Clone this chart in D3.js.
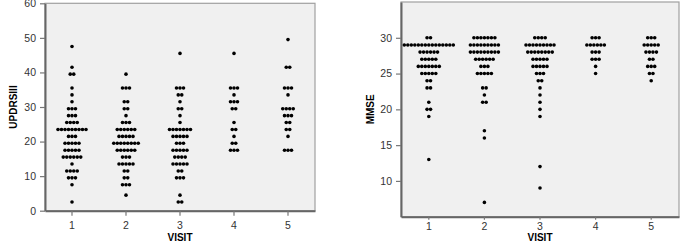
<!DOCTYPE html>
<html>
<head>
<meta charset="utf-8">
<script src="https://cdn.jsdelivr.net/npm/d3@7"></script>
<style>
  body { margin: 0; background: #fff; }
  text { font-family: "Liberation Sans", Arial, sans-serif; }
</style>
</head>
<body>
<svg id="chart" width="689" height="244"></svg>
<script>
const visits = ["1", "2", "3", "4", "5"];

// UPDRSIII dot plot: [binned value, number of dots]
const updrsV1 = [[47.5,1],[41.5,1],[39.5,2],[35.5,1],[33.5,1],[31.5,1],[29.5,3],[27.5,3],[25.5,4],[23.5,9],[21.5,3],[19.5,5],[17.5,5],[15.5,6],[13.5,1],[11.5,4],[9.5,3],[7.5,1],[2.5,1]];
const updrsV2 = [[39.5,1],[35.5,3],[31.5,2],[29.5,2],[27.5,1],[25.5,3],[23.5,6],[21.5,5],[19.5,8],[17.5,6],[15.5,3],[13.5,5],[11.5,2],[9.5,2],[7.5,3],[4.5,1]];
const updrsV3 = [[45.5,1],[35.5,3],[33.5,2],[31.5,1],[29.5,2],[27.5,1],[25.5,1],[23.5,7],[21.5,5],[19.5,3],[17.5,5],[15.5,4],[13.5,5],[11.5,2],[9.5,3],[4.5,1],[2.5,2]];
const updrsV4 = [[45.5,1],[35.5,3],[33.5,1],[31.5,3],[29.5,2],[25.5,1],[23.5,2],[21.5,1],[19.5,2],[17.5,3]];
const updrsV5 = [[49.5,1],[41.5,2],[35.5,3],[33.5,1],[29.5,4],[27.5,3],[25.5,2],[23.5,2],[21.5,1],[17.5,3]];

// MMSE dot plot
const mmseV1 = [[30,2],[29,15],[28,6],[27,5],[26,7],[25,5],[24,2],[23,2],[21,1],[20,2],[19,1],[13,1]];
const mmseV2 = [[30,7],[29,9],[28,9],[27,6],[26,3],[25,5],[23,2],[22,1],[21,2],[17,1],[16,1],[7,1]];
const mmseV3 = [[30,4],[29,9],[28,8],[27,5],[26,5],[25,3],[24,2],[23,1],[22,1],[21,1],[20,1],[19,1],[12,1],[9,1]];
const mmseV4 = [[30,3],[29,6],[28,3],[27,3],[26,1],[25,1]];
const mmseV5 = [[30,3],[29,5],[28,4],[27,2],[26,3],[25,2],[24,1]];

const updrsTicks = [0, 10, 20, 30, 40, 50, 60];
const mmseTicks = [10, 15, 20, 25, 30];

const svg = d3.select("#chart");
const dotR = 1.8, dotStep = 3.5;

function drawPanel(o) {
  const x = d3.scaleBand().domain(visits).range([o.left, o.right]);
  const y = d3.scaleLinear().domain(o.domain).range([o.bottom, o.top]);
  const g = svg.append("g");

  g.append("rect")
    .attr("x", o.left).attr("y", o.top)
    .attr("width", o.right - o.left).attr("height", o.bottom - o.top)
    .attr("fill", "#f0f0f0")
    .attr("stroke", "#a0a0a0")
    .attr("stroke-width", 1.2);

  const yAxis = g.append("g")
    .attr("transform", `translate(${o.left},0)`)
    .call(d3.axisLeft(y).tickValues(o.ticks).tickSize(5).tickPadding(4).tickSizeOuter(0));
  const xAxis = g.append("g")
    .attr("transform", `translate(0,${o.bottom})`)
    .call(d3.axisBottom(x).tickSize(o.xTick).tickPadding(o.xPad).tickSizeOuter(0));

  [yAxis, xAxis].forEach(a => {
    a.select(".domain").attr("stroke", "#666").attr("stroke-width", 2);
    a.selectAll(".tick line").attr("stroke", "#777").attr("stroke-width", 1.2);
    a.selectAll(".tick text").attr("fill", "#333").style("font-size", "10.5px");
  });

  o.series.forEach((rows, i) => {
    const cx = x(visits[i]) + x.bandwidth() / 2;
    const dots = [];
    rows.forEach(([v, n]) => {
      for (let j = 0; j < n; j++) dots.push({ v, off: (j - (n - 1) / 2) * dotStep });
    });
    g.selectAll(null)
      .data(dots)
      .enter()
      .append("circle")
      .attr("cx", d => cx + d.off)
      .attr("cy", d => y(d.v))
      .attr("r", dotR)
      .attr("fill", "#000");
  });

  g.append("text")
    .attr("x", (o.left + o.right) / 2).attr("y", 241)
    .attr("text-anchor", "middle")
    .style("font-size", "10px").style("font-weight", "bold")
    .text("VISIT");

  g.append("text")
    .attr("transform", `translate(${o.titleX},${(o.top + o.bottom) / 2}) rotate(-90)`)
    .attr("text-anchor", "middle")
    .style("font-size", "10px").style("font-weight", "bold")
    .text(o.title);
}

drawPanel({
  left: 45, right: 315, top: 3.3, bottom: 210.7,
  domain: [0, 60], ticks: updrsTicks, xTick: 5, xPad: 6,
  series: [updrsV1, updrsV2, updrsV3, updrsV4, updrsV5],
  title: "UPDRSIII", titleX: 17
});

drawPanel({
  left: 401, right: 679, top: 2, bottom: 216.7,
  domain: [5, 35], ticks: mmseTicks, xTick: 3, xPad: 3,
  series: [mmseV1, mmseV2, mmseV3, mmseV4, mmseV5],
  title: "MMSE", titleX: 374
});
</script>
</body>
</html>
